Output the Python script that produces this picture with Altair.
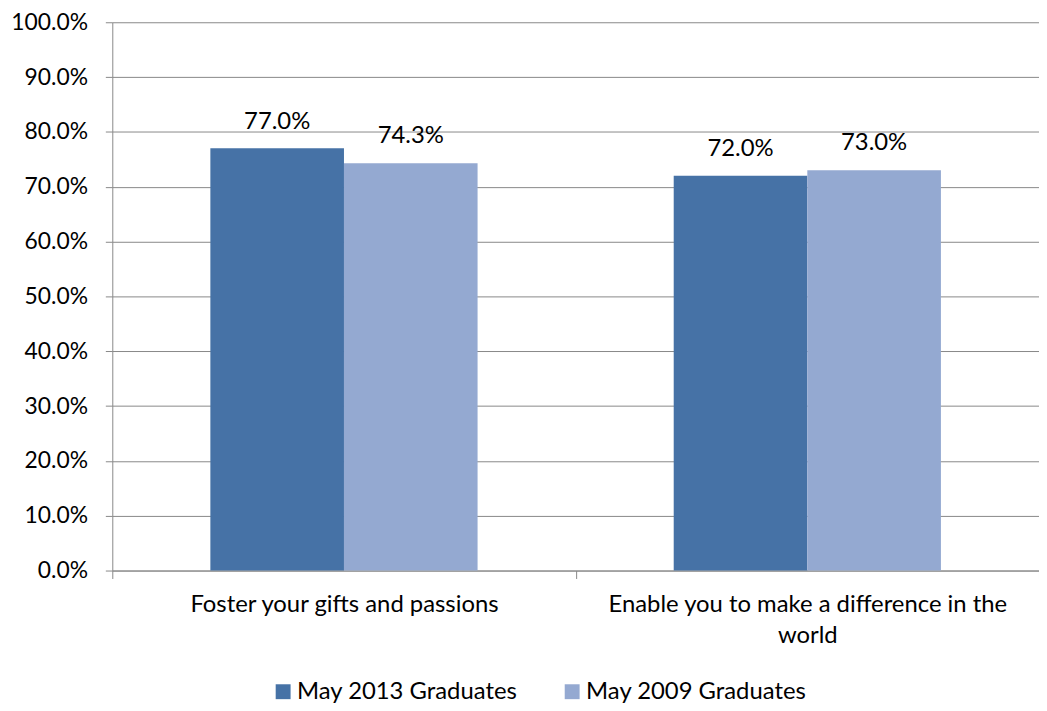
import altair as alt
import pandas as pd

categories = ["Foster your gifts and passions", "Enable you to make a difference in the world"]
series = ["May 2013 Graduates", "May 2009 Graduates"]
values_2013 = [0.770, 0.720]
values_2009 = [0.743, 0.730]
y_ticks = [0.0, 0.1, 0.2, 0.3, 0.4, 0.5, 0.6, 0.7, 0.8, 0.9, 1.0]
colors = ["#4672A6", "#94A9D1"]

rows = []
for i, c in enumerate(categories):
    rows.append({"category": c, "series": series[0], "value": values_2013[i]})
    rows.append({"category": c, "series": series[1], "value": values_2009[i]})
df = pd.DataFrame(rows)

FONT = "Lato"
FS = 24
GRAY = "#888888"

x = alt.X("category:N", sort=categories, title=None,
          scale=alt.Scale(paddingInner=0, paddingOuter=0),
          axis=alt.Axis(labelAngle=0, labelFontSize=FS, labelColor="black", labelFont=FONT,
                        domainColor=GRAY, tickColor=GRAY, tickSize=8, tickBand="extent",
                        labelPadding=14, labelLimit=1000, labelLineHeight=31,
                        labelExpr="datum.value == 'Enable you to make a difference in the world' ? ['Enable you to make a difference in the', 'world'] : datum.value"))
xo = alt.XOffset("series:N", sort=series, scale=alt.Scale(paddingOuter=0.734, paddingInner=0))
y = alt.Y("value:Q", title=None,
          scale=alt.Scale(domain=[0, 1], nice=False),
          axis=alt.Axis(values=y_ticks, format=".1%", labelFontSize=23, labelColor="black", labelFont=FONT,
                        domainColor=GRAY, tickColor=GRAY, tickSize=7, labelPadding=18,
                        gridColor=GRAY, gridWidth=1))
color = alt.Color("series:N", sort=series,
                  scale=alt.Scale(domain=series, range=colors),
                  legend=alt.Legend(title=None, orient="none", direction="horizontal",
                                    legendX=160, legendY=662, symbolType="square", symbolSize=225,
                                    symbolStrokeWidth=0, labelFontSize=FS, labelFont=FONT,
                                    labelColor="black", labelOffset=2, columnPadding=43,
                                    labelLimit=1000))

bars = alt.Chart(df).mark_bar().encode(x=x, xOffset=xo, y=y, color=color)
labels = alt.Chart(df).mark_text(baseline="alphabetic", dy=-20, fontSize=FS, font=FONT, color="black").encode(
    x=x, xOffset=xo, y=y, text=alt.Text("value:Q", format=".1%"))

chart = alt.layer(bars, labels).properties(
    width=933, height=552,
    autosize=alt.AutoSizeParams(type="none"),
    padding={"left": 105, "top": 12, "right": 0, "bottom": 131},
).configure_view(stroke=None)

chart.save("out.html", embed_options={"renderer": "svg", "actions": False})
